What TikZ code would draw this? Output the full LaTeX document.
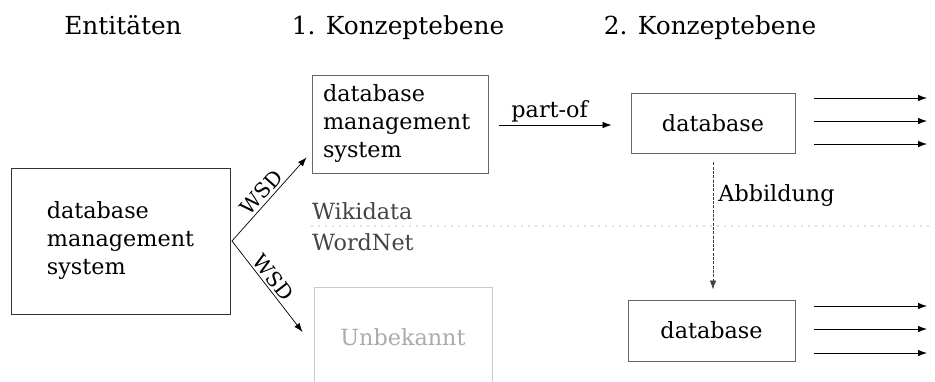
\documentclass[tikz,border=0pt]{standalone}
\usepackage{fontspec}
\setmainfont{DejaVu Serif}
\usetikzlibrary{arrows.meta}
\definecolor{boxgray}{HTML}{666666}
\definecolor{txtgray}{HTML}{444444}
\definecolor{faint}{HTML}{C8C8C8}
\definecolor{fainttxt}{HTML}{AAAAAA}
\tikzset{
  x=1pt, y=-1pt,
  txt/.style={font=\fontsize{22.3}{28}\selectfont, inner sep=0pt},
  head/.style={font=\fontsize{24.8}{30}\selectfont, inner sep=0pt, anchor=base},
  box/.style={draw=boxgray, line width=0.9pt, txt, align=left},
  arr/.style={-{Latex[length=9pt,width=6.5pt]}, line width=0.8pt},
  lbl/.style={font=\fontsize{22.3}{26}\selectfont, inner sep=2pt},
  wsd/.style={font=\fontsize{20.5}{24}\selectfont, inner sep=2.5pt},
}
\begin{document}
\begin{tikzpicture}
\useasboundingbox (0,0) rectangle (935,381);
\clip (0,0) rectangle (935,381);

% column headings
\node[head] (h0) at (123,34) {Entitäten};
\node[head] (h1) at (398,34) {1. Konzeptebene};
\node[head] (h2) at (710,34) {2. Konzeptebene};

% entity and concept boxes
\node[box, draw=black!80, minimum width=219, minimum height=146] (ent) at (120.5,241)
  {database\\management\\system};
\node[box, text width=154, minimum width=176, minimum height=98] (c1) at (400,124)
  {database\\management\\system};
\node[draw=faint, line width=0.9pt, text=fainttxt, txt, anchor=north,
  minimum width=178, minimum height=100] (unk) at (403,287) {Unbekannt};
\node[box, minimum width=164, minimum height=60] (db1) at (713,123) {database};
\node[box, minimum width=167, minimum height=61] (db2) at (711.5,330.5) {database};

% knowledge base separator
\coordinate (sepL) at (312,226);
\coordinate (sepR) at (935,226);
\draw[gray, line width=1.1pt, line cap=round, dash pattern=on 0pt off 7pt] (sepL) -- (sepR);
\node[txt, text=txtgray, anchor=west] (wd) at (312,211) {Wikidata};
\node[txt, text=txtgray, anchor=west] (wn) at (312,242) {WordNet};

% disambiguation arrows
\coordinate (wsdA) at ([xshift=-5pt,yshift=16pt]c1.south west);
\coordinate (wsdB) at ([xshift=-11pt,yshift=-45pt]unk.north west);
\draw[arr, line width=0.7pt] ([xshift=1.5pt]ent.east) -- node[wsd, above, sloped, pos=0.5] (wsd1) {WSD} (wsdA);
\draw[arr, line width=0.7pt] ([xshift=1.5pt]ent.east) -- node[wsd, above, sloped, pos=0.47] (wsd2) {WSD} (wsdB);

% part-of relation
\coordinate (poA) at (499,125);
\draw[arr] (poA) -- node[lbl, above, pos=0.45] (po) {part-of} ([xshift=-19pt]db1.west |- poA);

% mapping between concept levels
\draw[arr, dash pattern=on 3pt off 1.3pt, draw=black!75]
  ([yshift=-9pt]db1.south) -- node[lbl, right, inner sep=5pt, pos=0.26] (abb) {Abbildung} ([yshift=10pt]db2.north -| db1.south);

% outgoing relations
\foreach \n/\y in {a/98, b/121, c/144, d/306, e/329, f/353}{
  \coordinate (s\n) at (814,\y);
  \coordinate (t\n) at (927,\y);
  \draw[arr] (s\n) -- (t\n);
}
\end{tikzpicture}
\end{document}
